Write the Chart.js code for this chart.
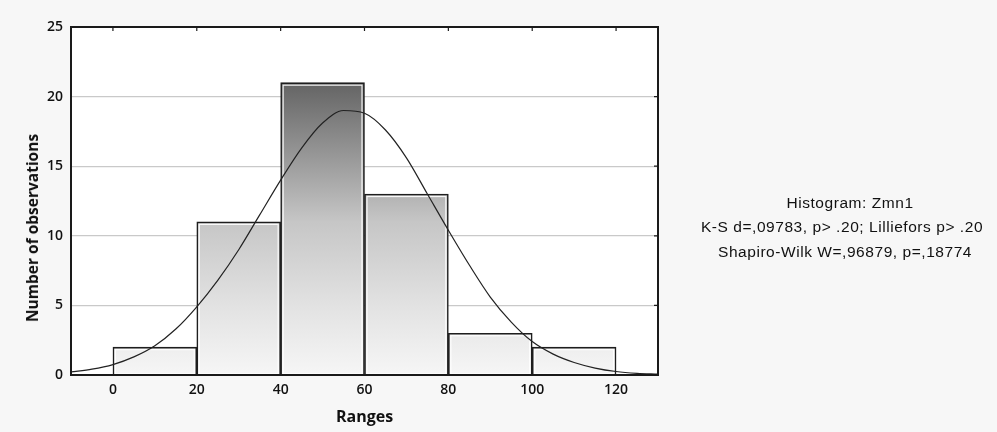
<!DOCTYPE html>
<html>
<head>
<meta charset="utf-8">
<script src="https://cdn.jsdelivr.net/npm/chart.js@4.4.1/dist/chart.umd.min.js"></script>
<style>
  html, body { margin: 0; padding: 0; background: #f7f7f7; }
  #wrap { position: relative; width: 997px; height: 432px; }
  #yTitle {
    position: absolute; left: 32px; top: 228px;
    transform: translate(-50%, -50%) rotate(-90deg);
    font: bold 15.5px "Open Sans", sans-serif; color: #111; white-space: nowrap;
  }
  .note {
    position: absolute; width: 360px; text-align: center; transform: translate(-50%, -50%);
    font: 15.5px "Liberation Sans", Arial, sans-serif; letter-spacing: 0.55px; color: #111; white-space: nowrap;
  }
</style>
</head>
<body>
<div id="wrap">
  <canvas id="chart"></canvas>
  <div id="yTitle">Number of observations</div>
  <div class="note" style="left:850px; top:203px;">Histogram: Zmn1</div>
  <div class="note" style="left:842px; top:227px;">K-S d=,09783, p&gt; .20; Lilliefors p&gt; .20</div>
  <div class="note" style="left:845px; top:252px;">Shapiro-Wilk W=,96879, p=,18774</div>
</div>
<script>
// histogram bins (centres) and counts
const binCentres = [10, 30, 50, 70, 90, 110];
const counts = [2, 11, 21, 13, 3, 2];

// fitted normal curve
const curveX = [-10, -5, 0, 5, 10, 15, 20, 25, 30, 35, 40, 45, 50, 55, 60, 65, 70, 75, 80, 85, 90, 95, 100, 105, 110, 115, 120, 125, 130];
const curveY = [0.22, 0.42, 0.75, 1.3, 2.1, 3.3, 4.9, 6.8, 9.0, 11.5, 14.0, 16.3, 18.1, 19.0, 18.8, 17.6, 15.6, 13.0, 10.4, 7.9, 5.6, 3.8, 2.4, 1.5, 0.9, 0.5, 0.25, 0.12, 0.06];

const xTicks = [0, 20, 40, 60, 80, 100, 120];
const yTicks = [0, 5, 10, 15, 20, 25];

let gradCache = null;
const barFill = (ctx) => {
  const area = ctx.chart.chartArea;
  if (!area) return "#dddddd";
  if (gradCache && gradCache.key === area.top + "_" + area.bottom) return gradCache.g;
  const g = ctx.chart.ctx.createLinearGradient(0, area.top, 0, area.bottom);
  g.addColorStop(0, "#505050");
  g.addColorStop(0.16, "#646464");
  g.addColorStop(0.48, "#b2b2b2");
  g.addColorStop(0.56, "#c6c6c6");
  g.addColorStop(0.8, "#e2e2e2");
  g.addColorStop(1, "#f6f6f6");
  gradCache = { key: area.top + "_" + area.bottom, g };
  return g;
};

const frame = {
  id: "frame",
  beforeDraw(chart) {
    const { ctx, chartArea: a } = chart;
    ctx.save();
    ctx.fillStyle = "#f7f7f7";
    ctx.fillRect(0, 0, chart.width, chart.height);
    ctx.fillStyle = "#ffffff";
    ctx.fillRect(a.left, a.top, a.right - a.left, a.bottom - a.top);
    ctx.restore();
  },
  afterDatasetDraw(chart, args) {
    if (args.index !== 0) return;
    const { ctx } = chart;
    ctx.save();
    ctx.strokeStyle = "rgba(255,255,255,0.9)";
    ctx.lineWidth = 1.2;
    args.meta.data.forEach((bar) => {
      const p = bar.getProps(["x", "y", "base", "width"], true);
      const l = p.x - p.width / 2 + 2.5, r = p.x + p.width / 2 - 2.5;
      ctx.strokeRect(l, p.y + 2.5, r - l, p.base - p.y - 3);
    });
    ctx.restore();
  },
  afterDatasetsDraw(chart) {
    const { ctx, chartArea: a, scales } = chart;
    ctx.save();
    ctx.strokeStyle = "#1a1a1a";
    ctx.lineWidth = 2;
    ctx.strokeRect(a.left, a.top, a.right - a.left, a.bottom - a.top);
    ctx.lineWidth = 1.2;
    ctx.beginPath();
    xTicks.forEach((v) => {
      const px = scales.x.getPixelForValue(v);
      ctx.moveTo(px, a.top);
      ctx.lineTo(px, a.top + 4);
    });
    yTicks.forEach((v) => {
      const py = scales.y.getPixelForValue(v);
      ctx.moveTo(a.right, py);
      ctx.lineTo(a.right - 4, py);
    });
    ctx.stroke();
    ctx.restore();
  },
};

document.addEventListener("DOMContentLoaded", () => {
  const canvas = document.getElementById("chart");
  new Chart(canvas, {
    data: {
      datasets: [
        {
          type: "bar",
          data: binCentres.map((x, i) => ({ x, y: counts[i] })),
          backgroundColor: barFill,
          borderColor: "#1e1e1e",
          borderWidth: 1.6,
          barPercentage: 1,
          categoryPercentage: 1,
          order: 2,
        },
        {
          type: "line",
          data: curveX.map((x, i) => ({ x, y: curveY[i] })),
          borderColor: "#222222",
          borderWidth: 1.2,
          pointRadius: 0,
          cubicInterpolationMode: "monotone",
          fill: false,
          order: 1,
        },
      ],
    },
    options: {
      responsive: true,
      maintainAspectRatio: false,
      animation: false,
      layout: { padding: { top: 27, right: 339, bottom: 0, left: 0 } },
      plugins: { legend: { display: false }, tooltip: { enabled: false } },
      scales: {
        x: {
          type: "linear",
          min: -10,
          max: 130,
          offset: false,
          afterBuildTicks: (scale) => { scale.ticks = xTicks.map((value) => ({ value })); },
          afterFit: (scale) => { scale.height = 57; },
          grid: { display: false, drawTicks: false },
          border: { display: false },
          ticks: { color: "#111", padding: 7, maxRotation: 0, font: { family: "Open Sans", size: 14, weight: "600" } },
          title: { display: true, text: "Ranges", color: "#111", padding: { top: 4, bottom: 5 }, font: { family: "Open Sans", size: 16, weight: "bold" } },
        },
        y: {
          min: 0,
          max: 25,
          afterBuildTicks: (scale) => { scale.ticks = yTicks.map((value) => ({ value })); },
          afterFit: (scale) => { scale.width = 71; },
          grid: { color: "#c9c9c9", lineWidth: 1.2, drawTicks: false },
          border: { display: false },
          ticks: { color: "#111", padding: 8, font: { family: "Open Sans", size: 14, weight: "600" } },
        },
      },
    },
    plugins: [frame],
  });
});
</script>
</body>
</html>
